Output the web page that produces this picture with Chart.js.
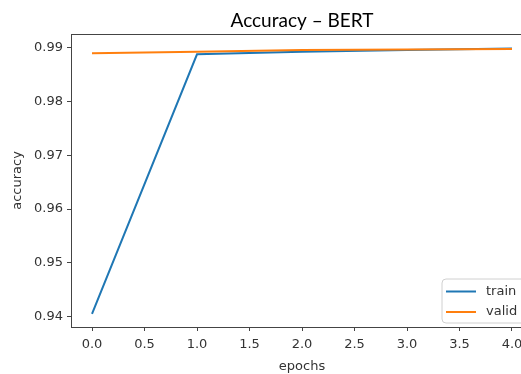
<!DOCTYPE html>
<html>
<head>
<meta charset="utf-8">
<script src="https://cdn.jsdelivr.net/npm/chart.js@4/dist/chart.umd.min.js"></script>
<style>
html,body{margin:0;padding:0;background:#fff;overflow:hidden;width:521px;height:374px;}
canvas{display:block;}
</style>
</head>
<body>
<canvas id="c" width="545" height="374" style="width:545px;height:374px"></canvas>
<script>
const epochs = [0, 1, 2, 3, 4];
const trainAcc = [0.9405, 0.9888, 0.9893, 0.9896, 0.9899];
const validAcc = [0.9890, 0.9893, 0.9896, 0.9897, 0.9898];
const xTicks = [0.0, 0.5, 1.0, 1.5, 2.0, 2.5, 3.0, 3.5, 4.0];
const yTicks = [0.94, 0.95, 0.96, 0.97, 0.98, 0.99];
const seriesNames = ['train', 'valid'];
const chartTitle = 'Accuracy – BERT';
const colors = ['#1f77b4', '#ff7f0e'];

const tickFont = {family: 'DejaVu Sans', size: 13};
const txtColor = '#333333';
const axisColor = '#444444';

const frame = {
  id: 'frame',
  afterDatasetsDraw(chart) {
    const {ctx, chartArea: a} = chart;
    ctx.save();
    ctx.strokeStyle = axisColor;
    ctx.lineWidth = 1;
    ctx.strokeRect(Math.round(a.left) + 0.5, Math.round(a.top) + 0.5,
                   Math.round(a.right - a.left), Math.round(a.bottom - a.top));
    ctx.restore();
  },
  afterDraw(chart) {
    const {ctx, chartArea: a} = chart;
    ctx.save();
    // title centred over the axes
    ctx.font = '19px Lato';
    ctx.fillStyle = '#000';
    ctx.textAlign = 'center';
    ctx.textBaseline = 'alphabetic';
    ctx.fillText(chartTitle, (a.left + a.right) / 2, a.top - 7);
    // legend
    const bx = a.right - 91, by = a.bottom - 48, bw = 84, bh = 44;
    const r = 4;
    ctx.beginPath();
    ctx.moveTo(bx + r, by);
    ctx.arcTo(bx + bw, by, bx + bw, by + bh, r);
    ctx.arcTo(bx + bw, by + bh, bx, by + bh, r);
    ctx.arcTo(bx, by + bh, bx, by, r);
    ctx.arcTo(bx, by, bx + bw, by, r);
    ctx.closePath();
    ctx.fillStyle = 'rgba(255,255,255,0.8)';
    ctx.fill();
    ctx.strokeStyle = '#d0d0d0';
    ctx.lineWidth = 1;
    ctx.stroke();
    ctx.font = '13px "DejaVu Sans"';
    ctx.textBaseline = 'middle';
    ctx.textAlign = 'left';
    seriesNames.forEach((n, i) => {
      const y = by + 12.5 + i * 20.5;
      ctx.strokeStyle = colors[i];
      ctx.lineWidth = 2;
      ctx.beginPath();
      ctx.moveTo(bx + 4, y);
      ctx.lineTo(bx + 34, y);
      ctx.stroke();
      ctx.fillStyle = txtColor;
      ctx.fillText(n, bx + 44, y);
    });
    ctx.restore();
  }
};

new Chart(document.getElementById('c'), {
  type: 'line',
  data: {
    datasets: [
      {label: seriesNames[0], data: epochs.map((e, i) => ({x: e, y: trainAcc[i]})),
       borderColor: colors[0], backgroundColor: colors[0], borderWidth: 2,
       pointRadius: 0, tension: 0, order: 1},
      {label: seriesNames[1], data: epochs.map((e, i) => ({x: e, y: validAcc[i]})),
       borderColor: colors[1], backgroundColor: colors[1], borderWidth: 2,
       pointRadius: 0, tension: 0, order: 0}
    ]
  },
  options: {
    responsive: false,
    animation: false,
    devicePixelRatio: 1,
    layout: {padding: {left: 0, right: 12, top: 34, bottom: 0}},
    plugins: {
      legend: {display: false},
      tooltip: {enabled: false},
      title: {display: false}
    },
    scales: {
      x: {
        type: 'linear',
        min: -0.2, max: 4.2,
        afterBuildTicks: s => { s.ticks = xTicks.map(v => ({value: v})); },
        afterFit: s => { s.height = 47; },
        ticks: {font: tickFont, color: txtColor, padding: 6, maxRotation: 0, autoSkip: false,
                callback: v => Number(v).toFixed(1)},
        grid: {drawOnChartArea: false, drawTicks: true, tickLength: 4, color: axisColor},
        border: {display: true, color: axisColor},
        title: {display: true, text: 'epochs', color: txtColor, font: {family: 'DejaVu Sans', size: 13, lineHeight: 1.2},
                padding: {top: 0, bottom: 0}}
      },
      y: {
        type: 'linear',
        min: 0.93804, max: 0.99259,
        afterBuildTicks: s => { s.ticks = yTicks.map(v => ({value: v})); },
        afterFit: s => { s.width = 71; },
        ticks: {font: tickFont, color: txtColor, padding: 4, autoSkip: false,
                callback: v => Number(v).toFixed(2)},
        grid: {drawOnChartArea: false, drawTicks: true, tickLength: 4, color: axisColor},
        border: {display: true, color: axisColor},
        title: {display: true, text: 'accuracy', color: txtColor, font: {family: 'DejaVu Sans', size: 13, lineHeight: 1.2},
                padding: {top: 10, bottom: 0}}
      }
    }
  },
  plugins: [frame]
});
</script>
</body>
</html>
